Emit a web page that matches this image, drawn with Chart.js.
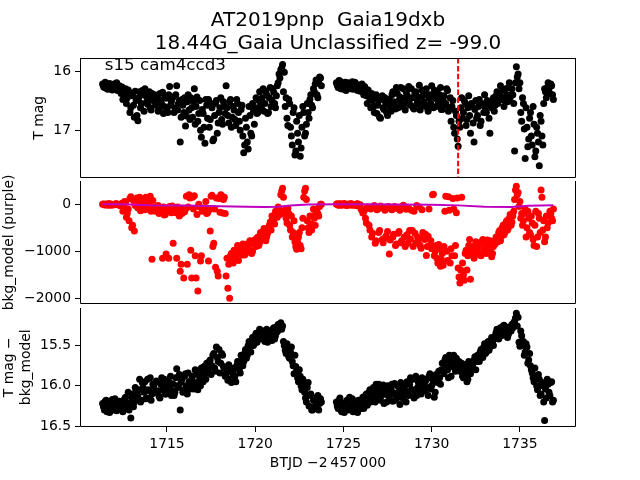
<!DOCTYPE html>
<html>
<head>
<meta charset="utf-8">
<script src="https://cdn.jsdelivr.net/npm/chart.js@4.4.0/dist/chart.umd.min.js"></script>
<style>
  body { margin: 0; background: #fff; }
  #wrap { position: relative; width: 640px; height: 480px; }
  canvas { position: absolute; left: 0; }
</style>
</head>
<body>
<div id="wrap">
  <canvas id="magChart" width="640" height="181" style="top:0"></canvas>
  <canvas id="diffChart" width="640" height="176" style="top:304px"></canvas>
  <canvas id="bkgChart" width="640" height="163" style="top:161px"></canvas>
</div>
<script>
// light curve: T mag, background, T mag - bkg_model
const titleLines = ['AT2019pnp  Gaia19dxb', '18.44G_Gaia Unclassified z= -99.0'];
const sectorLabel = 's15 cam4ccd3';
const xLabel = 'BTJD \u22122\u2009457\u2009000';
const xTicks = [1715, 1720, 1725, 1730, 1735];
const magTicks = [16, 17];
const bkgTicks = [0, -1000, -2000];
const diffTicks = [15.5, 16.0, 16.5];

const orbit1Start = 1711.35;
const orbit2Start = 1724.6;
const cadence = 0.1;
const flagTime = 1731.5;

const tmag1a = [
  16.22, 16.28, 16.25, 16.31, 16.21, 16.27, 16.30, 16.24, 16.20, 16.29,
  16.33, 16.27, 16.40, 16.30, 16.45, 16.36, 16.62, 16.42, 16.78, 16.50,
  16.84, 16.35, 16.55, 16.40, 16.30, 16.52, 16.45, 16.62, 16.38, 16.48,
  16.58, 16.42, 16.66, 16.50, 16.36, 16.60, 16.46, 16.70, 16.26, 16.52,
  16.44, 16.62, 16.25, 16.55, 17.20, 16.48, 16.70, 16.93, 16.52, 16.66,
  16.45, 16.78, 16.30, 16.60, 16.85, 16.50, 17.12, 16.72, 17.22, 16.58,
  16.48, 16.82, 16.62, 17.15, 16.55, 17.05, 16.70, 16.45, 16.90, 16.60,
  16.25, 16.75, 16.52, 16.95, 16.60, 16.82, 16.48, 16.70, 17.00, 16.58,
  17.38, 16.80, 17.20, 16.60, 17.05, 16.55, 16.90, 16.45, 16.70, 16.35,
  16.62, 16.30, 16.55, 16.40, 16.70, 16.28, 16.50, 16.36, 16.62, 16.25,
  16.05, 15.98, 15.89, 16.02, 16.45, 16.92, 16.55, 17.10, 16.70, 17.42,
  16.85, 17.20, 17.44, 16.95, 16.70, 17.05, 16.55, 16.80, 16.40, 16.62,
  16.35, 16.15, 16.45, 16.10, 16.25
];
const tmag1b = [
  16.26, 16.19, 16.30, 16.23, 16.28, 16.32, 16.22, 16.27, 16.33, 16.25,
  16.38, 16.48, 16.35, 16.55, 16.32, 16.70, 16.40, 16.58, 16.34, 16.75,
  16.45, 16.62, 16.33, 16.68, 16.42, 16.56, 16.35, 16.66, 16.50, 16.40,
  16.48, 16.68, 16.38, 16.56, 16.72, 16.44, 16.64, 16.40, 16.58, 16.45,
  16.70, 16.40, 16.66, 16.50, 16.78, 16.58, 16.45, 16.76, 16.40, 16.82,
  16.62, 16.52, 16.90, 16.44, 16.72, 17.00, 16.65, 16.95, 16.48, 16.80,
  16.95, 16.55, 17.18, 16.75, 16.50, 16.88, 16.62, 16.82, 16.52, 16.72,
  16.62, 16.88, 16.48, 16.78, 16.66, 16.92, 16.55, 16.85, 16.65, 17.10,
  17.25, 16.95, 17.32, 16.75, 17.10, 16.68, 16.62, 16.72, 16.50, 16.58,
  16.45, 16.68, 16.34, 16.72, 16.45, 16.60, 16.30, 16.55, 16.42, 16.20,
  16.12, 15.95, 16.35, 16.60, 16.80, 16.48, 16.95, 17.25, 16.62, 17.35,
  17.05, 16.75, 17.30, 16.60, 17.10, 16.90, 16.70, 16.48, 16.58, 16.30,
  16.22, 16.40, 16.20, 16.12
];
const tmag2a = [
  16.20, 16.28, 16.17, 16.25, 16.31, 16.19, 16.26, 16.22, 16.30, 16.18,
  16.27, 16.21, 16.33, 16.24, 16.29, 16.35, 16.26, 16.42, 16.32, 16.48,
  16.38, 16.60, 16.45, 16.72, 16.50, 16.80, 16.42, 16.65, 16.55, 16.75,
  16.48, 16.68, 16.35, 16.58, 16.28, 16.62, 16.44, 16.55, 16.30, 16.66,
  16.40, 16.26, 16.58, 16.45, 16.64, 16.35, 16.52, 16.24, 16.60, 16.42,
  16.55, 16.30, 16.68, 16.40, 16.25, 16.62, 16.46, 16.35, 16.58, 16.28,
  16.65, 16.42, 16.55, 16.33, 16.62, 16.85, 16.50, 17.05, 16.75, 17.27,
  16.95, 16.45, 16.70, 16.55, 16.82, 16.42, 17.05, 16.60, 17.20, 16.50,
  16.75, 16.48, 16.85, 16.58, 16.40, 16.70, 16.52, 17.05, 16.62, 16.45,
  16.58, 16.35, 16.50, 16.25, 16.45, 16.60, 16.30, 16.52, 16.20, 16.40,
  16.40, 17.35, 15.93, 16.05, 16.20, 16.85, 16.55, 17.48, 16.95, 17.15,
  16.70, 17.25, 16.90, 17.35, 17.05, 17.60, 16.85, 17.25, 16.30, 16.45,
  16.20, 16.38, 16.25, 16.48
];
const tmag2b = [
  16.24, 16.16, 16.30, 16.21, 16.27, 16.33, 16.20, 16.28, 16.23, 16.31,
  16.19, 16.30, 16.25, 16.34, 16.22, 16.40, 16.30, 16.55, 16.38, 16.62,
  16.50, 16.70, 16.40, 16.58, 16.78, 16.48, 16.62, 16.45, 16.70, 16.52,
  16.60, 16.40, 16.52, 16.64, 16.38, 16.50, 16.28, 16.60, 16.46, 16.35,
  16.55, 16.48, 16.30, 16.62, 16.38, 16.56, 16.44, 16.66, 16.32, 16.52,
  16.38, 16.62, 16.45, 16.55, 16.42, 16.32, 16.60, 16.50, 16.40, 16.65,
  16.50, 16.58, 16.30, 16.68, 16.45, 16.60, 16.95, 16.68, 17.15, 16.85,
  16.62, 16.80, 16.50, 16.92, 16.62, 16.75, 16.55, 16.88, 16.65, 16.80,
  16.60, 16.92, 16.55, 16.70, 16.62, 16.50, 16.80, 16.58, 16.50, 16.68,
  16.42, 16.55, 16.38, 16.48, 16.32, 16.50, 16.40, 16.28, 16.45, 16.30,
  16.55, 16.20, 16.10, 16.30, 16.70, 16.45, 16.98, 16.62, 17.28, 16.80,
  17.10, 16.60, 17.45, 16.95, 17.20, 16.75, 17.10, 16.55, 16.35, 16.28,
  16.30, 16.22, 16.40
];

const bkg1a = [
  0, -10, 5, -20, 10, -5, -15, 0, 8, -12,
  -20, 20, -60, 40, -200, -350, 160, -450, -570, 50,
  -80, 150, -30, 100, -120, 60, -60, 170, -1170, -100,
  -150, -60, -200, -90, -1150, -230, -1060, -120, -50, -180,
  -830, -140, -1150, -80, -1430, -200, -1570, -100, -1280, 200,
  -980, 150, 180, -1570, -1850, -60, -1100, -130, -90, -200,
  -1210, -570, 190, -830, -1340, -1430, 120, 200, -190, 150,
  -1530, -1790, -2000, -1050, -1250, -1100, -1000, -1200, -950, -1080,
  -920, -1050, -850, -980, -800, -1000, -760, -900, -700, -820,
  -640, -750, -560, -700, -500, -380, -250, -330, -150, -280,
  -100, 200, 340, -180, -300, -90, -450, -250, -600, -800,
  -960, -700, -880, -500, 150, 340, -350, -600, -420, -250,
  -300, -150, -200, -50, 0
];
const bkg1b = [
  5, -15, 0, 10, -20, 0, -8, 12, -5, -25,
  -40, -150, 60, -280, -100, 120, -500, 80, -30, 130,
  40, -140, 90, -50, 150, -100, 20, -150, 80, -60,
  -100, -30, -170, -120, -60, -220, -80, -1150, -150, -40,
  -120, -180, -60, -250, -1280, -90, -160, 170, -60, 130,
  -1570, -100, -1100, -220, 0, -1210, -150, -80, 60, -180,
  -120, 170, -900, -100, 130, -1530, -170, 180, 100, -200,
  -1150, -1280, -1100, -1180, -980, -1150, -880, -1050, -1020, -850,
  -1080, -880, -950, -780, -1050, -860, -820, -720, -880, -600,
  -700, -520, -780, -620, -450, -550, -300, -420, -200, -60,
  -220, 280, 150, -120, -400, -200, -550, -700, -350, -900,
  -800, -600, -950, -300, 280, 100, -500, -250, -550, -100,
  -450, -100, -250, 0
];
const bkg2a = [
  0, -15, 10, -25, 5, -10, -30, 0, 12, -20,
  -5, -20, 8, -30, -100, -190, -120, -400, -80, -550,
  -700, -60, -830, -120, -600, -40, -750, -90, -680, -580,
  -1060, -100, -700, -50, -850, -620, -130, -780, -20, -900,
  -650, -80, -740, -560, -150, -820, -700, -60, -940, -600,
  -750, -1090, -680, -880, -950, 210, -1000, -1150, -860, -1320,
  -1050, -900, 170, -1200, -130, -950, 120, -1100, -180, -1360,
  -1680, 150, -1500, -1050, -1400, -880, -1600, -950, -1150, -800,
  -1000, -820, -1100, -750, -950, -1050, -870, -780, -1120, -900,
  -850, -720, -600, -780, -500, -650, -400, -550, -300, -450,
  -250, 100, 380, 250, 60, -200, -350, -100, -500, -300,
  -650, -400, -880, -150, -700, -300, 300, -550, -800, -250,
  -400, -150, -300, -100
];
const bkg2b = [
  10, -20, 5, -10, 15, -25, 0, -15, 8, -5,
  -25, 5, -40, -10, -130, -160, -300, -60, -450, -100,
  -620, -30, -780, -100, -560, -70, -820, -130, -720, -50,
  -760, -120, -640, -880, -90, -580, -820, -40, -700, -110,
  -830, -560, -130, -900, -620, -30, -760, -880, -120, -700,
  -640, -900, -100, -780, 200, -1100, -880, -1250, -950, -1180,
  -1300, -150, -1000, 160, -1250, -1100, -100, -880, 130, -1550,
  -1400, -1250, -1620, -980, -1100, -750, -1050, -900, -1080, -850,
  -900, -1080, -800, -1000, -880, -760, -1000, -920, -1050, -780,
  -700, -800, -560, -680, -450, -600, -350, -500, -220, -380,
  -150, 300, 200, -50, -300, -450, -200, -700, -150, -600,
  -250, -750, -450, -900, -200, -600, 150, -350, -700, -500,
  -250, -200, -350
];

const modelTimes = [1711.35, 1712.5, 1714, 1716, 1718, 1719.5, 1720.5, 1721.3, 1722, 1723,
  1724.6, 1726, 1728, 1730, 1731.5, 1733, 1734.5, 1735.5, 1736.9];
const modelValues = [0, 0, -20, -30, -45, -55, -60, -55, -30, -5,
  0, 0, -5, -10, -25, -55, -60, -35, -20];

const diff1a = [
  16.22, 16.30, 16.18, 16.27, 16.33, 16.20, 16.26, 16.16, 16.31, 16.24,
  16.28, 16.19, 16.25, 16.14, 16.22, 16.30, 16.40, 16.10, 16.20, 16.05,
  16.12, 15.92, 16.18, 16.02, 15.95, 16.15, 16.05, 15.90, 16.10, 16.00,
  16.08, 15.95, 16.13, 15.98, 16.05, 15.92, 16.10, 16.02, 15.96, 16.12,
  15.98, 16.08, 15.79, 16.02, 16.30, 15.92, 16.05, 15.85, 16.10, 15.95,
  16.02, 15.88, 15.98, 15.82, 16.05, 15.90, 15.78, 15.95, 15.85, 15.72,
  15.80, 15.68, 15.75, 15.60, 15.82, 15.65, 15.55, 15.72, 15.62, 15.78,
  15.85, 15.93, 15.78, 15.96, 15.82, 15.88, 15.75, 15.72, 15.84, 15.65,
  15.70, 15.55, 15.62, 15.45, 15.58, 15.40, 15.48, 15.35, 15.42, 15.30,
  15.38, 15.32, 15.45, 15.30, 15.40, 15.35, 15.44, 15.28, 15.38, 15.33,
  15.30, 15.22, 15.26, 15.50, 15.60, 15.55, 15.66, 15.52, 15.75, 15.62,
  15.82, 15.95, 15.88, 16.05, 15.98, 16.15, 16.02, 16.25, 16.10, 16.30,
  16.18, 16.28, 16.12, 16.22, 16.20
];
const diff1b = [
  16.26, 16.19, 16.32, 16.24, 16.29, 16.17, 16.30, 16.22, 16.28, 16.19,
  16.25, 16.32, 16.16, 16.26, 16.08, 16.22, 16.15, 16.26, 16.02, 16.16,
  16.05, 16.20, 15.96, 16.08, 16.16, 15.92, 16.06, 16.18, 15.98, 16.08,
  15.94, 16.06, 16.15, 15.90, 16.00, 16.10, 15.94, 16.04, 15.88, 16.06,
  16.12, 15.90, 16.00, 15.86, 15.96, 16.08, 15.88, 16.00, 15.84, 16.04,
  15.92, 16.04, 15.80, 15.96, 15.86, 16.00, 15.84, 15.76, 15.92, 15.80,
  15.70, 15.86, 15.62, 15.78, 15.52, 15.70, 15.84, 15.60, 15.76, 15.88,
  15.80, 15.74, 15.92, 15.84, 15.78, 15.95, 15.70, 15.80, 15.62, 15.75,
  15.60, 15.66, 15.50, 15.52, 15.44, 15.50, 15.38, 15.46, 15.36, 15.42,
  15.34, 15.42, 15.36, 15.46, 15.32, 15.40, 15.30, 15.42, 15.27, 15.24,
  15.25, 15.30, 15.45, 15.56, 15.48, 15.64, 15.58, 15.70, 15.85, 15.76,
  15.90, 15.80, 16.00, 15.92, 16.08, 16.20, 15.96, 16.12, 16.30, 16.18,
  16.25, 16.14, 16.30, 16.16
];
const diff2a = [
  16.20, 16.28, 16.15, 16.32, 16.22, 16.26, 16.18, 16.30, 16.24, 16.16,
  16.27, 16.20, 16.33, 16.22, 16.28, 16.14, 16.25, 16.10, 16.18, 16.05,
  16.15, 16.02, 16.20, 16.08, 15.98, 16.18, 16.05, 16.22, 16.10, 16.00,
  16.14, 16.04, 16.19, 15.97, 16.12, 16.08, 16.23, 16.02, 16.16, 16.06,
  15.95, 16.12, 15.90, 16.05, 16.15, 15.88, 16.02, 15.94, 16.10, 15.98,
  16.06, 15.92, 16.12, 15.85, 16.00, 15.96, 16.08, 15.90, 15.82, 15.98,
  15.72, 15.85, 15.65, 15.80, 15.62, 15.88, 15.70, 15.78, 15.66, 15.74,
  15.82, 15.72, 15.90, 15.78, 15.95, 15.70, 15.85, 15.76, 15.68, 15.80,
  15.62, 15.70, 15.55, 15.65, 15.48, 15.58, 15.45, 15.52, 15.40, 15.50,
  15.38, 15.30, 15.42, 15.28, 15.36, 15.25, 15.33, 15.40, 15.27, 15.32,
  15.28, 15.20, 15.10, 15.15, 15.51, 15.38, 15.45, 15.58, 15.52, 15.68,
  15.75, 15.84, 15.95, 15.88, 16.05, 15.92, 16.10, 16.00, 16.43, 16.15,
  15.98, 16.12, 15.95, 16.18
];
const diff2b = [
  16.25, 16.18, 16.30, 16.22, 16.33, 16.20, 16.27, 16.14, 16.26, 16.32,
  16.22, 16.30, 16.18, 16.26, 16.20, 16.28, 16.12, 16.24, 16.08, 16.20,
  16.06, 16.12, 15.98, 16.16, 16.04, 16.12, 15.99, 16.10, 16.20, 16.05,
  16.10, 15.98, 16.09, 16.18, 16.00, 16.14, 15.96, 16.10, 16.02, 16.20,
  16.08, 15.98, 16.05, 15.92, 16.08, 16.12, 15.96, 16.06, 15.90, 16.04,
  15.94, 16.02, 15.88, 16.04, 15.92, 16.14, 15.86, 15.96, 15.90, 15.80,
  15.80, 15.68, 15.76, 15.90, 15.70, 15.76, 15.62, 15.82, 15.74, 15.70,
  15.78, 15.88, 15.74, 15.84, 15.92, 15.76, 15.80, 15.72, 15.64, 15.70,
  15.68, 15.58, 15.62, 15.52, 15.60, 15.50, 15.56, 15.44, 15.46, 15.42,
  15.34, 15.40, 15.32, 15.38, 15.26, 15.35, 15.28, 15.36, 15.30, 15.24,
  15.22, 15.16, 15.26, 15.46, 15.32, 15.50, 15.62, 15.48, 15.72, 15.60,
  15.80, 15.90, 15.78, 16.00, 15.86, 16.12, 15.96, 16.20, 16.04, 15.92,
  16.08, 15.96, 16.20
];

Chart.defaults.font.family = '"DejaVu Sans", sans-serif';
Chart.defaults.color = '#000';

const tickFont = { size: 13.9 };
const X_MIN = 1710.07, X_MAX = 1738.18;

const toPoints = (start, vals) => vals.map((v, i) => ({ x: +(start + i * cadence).toFixed(2), y: v }));
const series = (o1a, o1b, o2a, o2b) => [
    ...toPoints(orbit1Start, o1a), ...toPoints(orbit1Start + cadence / 2, o1b),
    ...toPoints(orbit2Start, o2a), ...toPoints(orbit2Start + cadence / 2, o2b)
];

// box around each panel (panels below the first share the top edge)
const framePlugin = {
    id: 'frame',
    afterDatasetsDraw(chart, args, opts) {
        const { ctx, chartArea: a } = chart;
        const l = Math.round(a.left) + 0.5, r = Math.round(a.right) - 0.5;
        const t = Math.round(a.top) + 0.5, b = Math.round(a.bottom) - 0.5;
        ctx.save();
        ctx.strokeStyle = '#000';
        ctx.lineWidth = 1;
        ctx.beginPath();
        if (opts.top) { ctx.moveTo(l, t); ctx.lineTo(r, t); }
        ctx.moveTo(l, t - 0.5); ctx.lineTo(l, b);
        ctx.lineTo(r, b); ctx.lineTo(r, t - 0.5);
        ctx.stroke();
        ctx.restore();
    }
};

// suptitle centred over the axes, plus the sector/camera label
const headerPlugin = {
    id: 'header',
    afterDatasetsDraw(chart) {
        const { ctx, chartArea: a } = chart;
        ctx.save();
        ctx.fillStyle = '#000';
        ctx.textBaseline = 'middle';
        ctx.textAlign = 'center';
        ctx.font = '20px "DejaVu Sans"';
        const cx = (a.left + a.right) / 2;
        ctx.fillText(titleLines[0], cx, 20.5);
        ctx.fillText(titleLines[1], cx, 43.5);
        ctx.font = '16.7px "DejaVu Sans"';
        ctx.textAlign = 'left';
        ctx.textBaseline = 'alphabetic';
        ctx.fillText(sectorLabel, a.left + 0.05 * (a.right - a.left), 70);
        ctx.restore();
    }
};

function xScale(show) {
    return {
        type: 'linear', min: X_MIN, max: X_MAX, display: show,
        afterBuildTicks: s => { s.ticks = xTicks.map(v => ({ value: v })); },
        ticks: { font: tickFont, padding: 4, color: '#000', maxRotation: 0, callback: v => String(v) },
        grid: { drawOnChartArea: false, tickLength: 5, color: '#000' },
        border: { display: false },
        title: { display: true, text: xLabel, font: tickFont, color: '#000', padding: { top: 0, bottom: 8.7 } },
        afterFit: s => {
            if (show) s.height = 53;
            s.paddingLeft = 0; s.paddingRight = 0;
        }
    };
}

function yScale(min, max, reverse, ticks, fmt, title, titlePad) {
    return {
        type: 'linear', min: min, max: max, reverse: reverse,
        afterBuildTicks: s => { s.ticks = ticks.map(v => ({ value: v })); },
        ticks: { font: tickFont, padding: 4, color: '#000', callback: fmt },
        grid: { drawOnChartArea: false, tickLength: 5, color: '#000' },
        border: { display: false },
        title: { display: true, text: title, font: tickFont, color: '#000', padding: { top: titlePad, bottom: 0 } },
        afterFit: s => { s.width = 80; s.paddingTop = 0; s.paddingBottom = 0; }
    };
}

const dotStyle = color => ({
    backgroundColor: color, borderWidth: 0, pointRadius: 3.5, pointHoverRadius: 3.5, showLine: false
});

const baseOptions = {
    responsive: false,
    maintainAspectRatio: false,
    animation: false,
    devicePixelRatio: 1,
    events: []
};
const noLegend = { legend: { display: false }, tooltip: { enabled: false } };

// top panel: T mag
new Chart(document.getElementById('magChart'), {
    type: 'scatter',
    data: {
        datasets: [
            {
                data: [{ x: flagTime, y: 15.78 }, { x: flagTime, y: 17.8 }],
                showLine: true, borderColor: '#ff0000', borderWidth: 2,
                borderDash: [5.5, 2.4], pointRadius: 0, order: 0
            },
            { data: series(tmag1a, tmag1b, tmag2a, tmag2b), ...dotStyle('#000'), order: 1 }
        ]
    },
    options: {
        ...baseOptions,
        layout: { padding: { left: 0, right: 64, top: 58, bottom: 0 } },
        scales: {
            x: xScale(false),
            y: yScale(15.78, 17.8, true, magTicks, v => String(v), 'T mag', 31.2)
        },
        plugins: { ...noLegend, frame: { top: true } }
    },
    plugins: [framePlugin, headerPlugin]
});

// middle panel: background (canvas overlaps its neighbours so the long label fits)
new Chart(document.getElementById('bkgChart'), {
    type: 'scatter',
    data: {
        datasets: [
            {
                data: modelTimes.map((t, i) => ({ x: t, y: modelValues[i] })),
                showLine: true, borderColor: '#bf00bf', borderWidth: 2,
                pointRadius: 0, order: 0
            },
            { data: series(bkg1a, bkg1b, bkg2a, bkg2b), ...dotStyle('#ff0000'), order: 1 }
        ]
    },
    options: {
        ...baseOptions,
        layout: { padding: { left: 0, right: 64, top: 20, bottom: 20 } },
        scales: {
            x: xScale(false),
            y: yScale(-2125, 494, false, bkgTicks,
                v => v < 0 ? '\u2212' + Math.abs(v) : String(v), 'bkg_model (purple)', 1.2)
        },
        plugins: { ...noLegend, frame: { top: false } }
    },
    plugins: [framePlugin]
});

// bottom panel: T mag - bkg_model
new Chart(document.getElementById('diffChart'), {
    type: 'scatter',
    data: {
        datasets: [
            { data: series(diff1a, diff1b, diff2a, diff2b), ...dotStyle('#000') }
        ]
    },
    options: {
        ...baseOptions,
        layout: { padding: { left: 0, right: 64, top: 0, bottom: 0 } },
        scales: {
            x: xScale(true),
            y: yScale(15.03, 16.51, true, diffTicks, v => v.toFixed(1), ['T mag \u2212', 'bkg_model'], 1.2)
        },
        plugins: { ...noLegend, frame: { top: false } }
    },
    plugins: [framePlugin]
});
</script>
</body>
</html>
